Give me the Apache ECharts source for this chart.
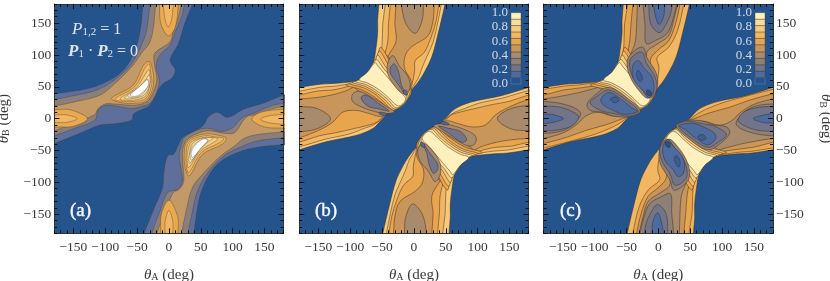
<!DOCTYPE html>
<html>
<head>
<meta charset="utf-8">
<style>html,body{margin:0;padding:0;background:#fff}#c{width:830px;height:281px}</style>
<script src="https://cdn.jsdelivr.net/npm/echarts@6/dist/echarts.min.js"></script>
</head>
<body>
<div id="c"></div>
<script>
// ---- tick labels and shared values ----
const majorTicks = [-150, -100, -50, 0, 50, 100, 150];
const colorbarEdges = [0, 0.09, 0.18, 0.27, 0.36, 0.45, 0.55, 0.64, 0.73, 0.82, 0.91, 1];
const colorbarTicks = ['0.0', '0.2', '0.4', '0.6', '0.8', '1.0'];
const bands = ['#25548C', '#4E6BA0', '#72748C', '#8E8077', '#A88A6C', '#C8955B', '#E9A44E', '#F2B763', '#F7CA7B', '#FBDD9A', '#FFF0BE'];
const aBands = { p1: '#5E6F9B', p2: '#8B7F7C', p3: '#C39A65', b1: '#E8A94F', b2: '#F2BB6C', b3: '#F7CF85', b4: '#FBE0A3', b5: '#FEF1CC', b6: '#FFFFFF' };

// ---- panel (a): contour outlines [thetaA, thetaB] of the upper-left arm ----
const aLevel1 = [[-41,190],[-41,180],[-45,139],[-53,108],[-69,79],[-92,61],[-124,48],[-180,39],[-195,37],[-195,-44],[-180,-39],[-140,-23],[-108,-10],[-85,-8],[-58,-2],[-56,7],[-43,14],[-30,21],[-17,45],[-9,55],[4,63],[10,76],[2,92],[15,118],[25,150],[37,180],[39,190]];
const aLevel2 = [[-30,190],[-30,180],[-35,139],[-43,116],[-58,87],[-85,61],[-113,45],[-145,37],[-180,30],[-195,28],[-195,-30],[-180,-27],[-145,-14],[-116,-2],[-111,14],[-98,21],[-85,20],[-58,16],[-43,19],[-30,24],[-19,42],[-15,61],[-20,82],[-14,100],[2,116],[10,137],[20,160],[24,180],[25,190]];
const aLevel3 = [[-21,190],[-21,180],[-25,139],[-31,118],[-43,103],[-58,82],[-85,55],[-108,37],[-145,27],[-180,20],[-195,19],[-195,-21],[-180,-19],[-145,-5],[-117,6],[-111,16],[-100,23],[-85,23],[-58,21],[-43,23],[-32,29],[-22,48],[-19,63],[-23,87],[-22,103],[2,121],[7,139],[15,160],[19,180],[20,190]];
const aTopLobe1 = [[-16,190],[-15,180],[-13,150],[-1,130],[10,144],[15,180],[16,190]];
const aTopLobe2 = [[-10,190],[-9,180],[-6,155],[-1,144],[4,155],[7,180],[8,190]];
const aLeftLobe1 = [[-195,15],[-180,14],[-155,14],[-128,0],[-150,-12],[-180,-13],[-195,-14]];
const aLeftLobe2 = [[-195,7],[-180,6],[-161,6],[-144,0],[-161,-6],[-180,-6],[-195,-7]];
const aBlob1 = [[-90,32],[-56,53],[-40,84],[-31,90],[-27,82],[-24,55],[-35,29],[-56,24],[-79,26]];
const aBlob2 = [[-85,31],[-53,51],[-38,79],[-31,86],[-29,74],[-27,55],[-36,32],[-56,27],[-77,28]];
const aBlob3 = [[-77,31],[-51,49],[-37,70],[-31,77],[-30,66],[-30,53],[-37,35],[-56,29],[-69,29]];
const aBlob4 = [[-70,33],[-48,49],[-36,62],[-31,69],[-30,55],[-39,37],[-56,32],[-64,31]];
const aBlob5 = [[-65,36],[-45,50],[-35,61],[-31,59],[-41,39],[-56,33]];
const aBlob6 = [[-61,37],[-43,53],[-34,61],[-32,53],[-43,40],[-53,35]];

// ---- panels (b), (c): shared outer edge and bright strip of the upper-left arm ----
const armEdge = [[-55,190],[-55,180],[-57,155],[-57,134],[-60,108],[-64,87],[-72,74],[-86,61],[-116,56],[-147,54],[-180,49],[-195,47],[-195,-54],[-180,-49],[-137,-36],[-90,-26],[-64,-15],[-52,-3],[-43,6],[-35,14],[-14,35],[-4,45],[7,58],[17,74],[28,97],[38,134],[49,181],[50,190]];
const strip10 = [[-61,88],[-73,73],[-86,61],[-73,56],[-54,45],[-40,33],[-24,20],[-13,31],[-25,45],[-39,62],[-50,75],[-57,83]];
const strip9 = [[-59,93],[-64,87],[-72,74],[-86,61],[-92,58],[-74,53],[-56,42],[-41,30],[-27,17],[-11,32],[-23,48],[-35,65],[-48,79],[-54,88]];
const strip8 = [[-57,100],[-62,88],[-70,74],[-86,60],[-97,57],[-75,50],[-57,39],[-44,28],[-29,15],[-9,33],[-20,50],[-32,67],[-45,82],[-52,94]];
const strip7 = [[-55,106],[-60,90],[-70,73],[-86,59],[-101,55],[-78,48],[-59,37],[-46,25],[-32,13],[-7,36],[-18,53],[-29,70],[-41,86],[-49,100]];
const strip6 = [[-53,112],[-58,92],[-70,72],[-88,58],[-107,53],[-81,45],[-62,34],[-48,23],[-34,11],[-5,38],[-15,56],[-26,73],[-38,90],[-46,105]];
const strip5 = [[-52,100],[-58,88],[-72,70],[-95,53],[-86,43],[-65,31],[-51,21],[-37,9],[-4,40],[-12,58],[-23,76],[-36,92],[-44,100]];

// ---- panel (b) interior contours ----
const bBelow7 = [[-45,190],[-45,180],[-49,149],[-50,117],[-55,88],[-75,62],[-117,52],[-149,49],[-180,43],[-195,42],[-195,-45],[-180,-44],[-138,-32],[-101,-24],[-80,-16],[-62,-9],[-46,4],[-23,23],[-7,43],[6,62],[14,83],[22,101],[30,120],[37,149],[43,180],[44,190]];
const bBelow6 = [[-37,190],[-37,180],[-40,149],[-41,122],[-46,101],[-54,83],[-88,57],[-122,46],[-154,43],[-180,37],[-195,36],[-195,-38],[-180,-37],[-149,-27],[-122,-22],[-96,-16],[-75,-11],[-59,-6],[-49,3],[-23,23],[-8,41],[-3,54],[1,75],[2,91],[16,104],[27,128],[35,154],[39,180],[40,190]];
const bBelow5 = [[-28,190],[-28,180],[-30,149],[-28,122],[-39,101],[-49,86],[-96,49],[-122,39],[-154,33],[-180,31],[-195,30],[-195,-31],[-180,-30],[-149,-18],[-128,-6],[-112,10],[-91,13],[-70,8],[-49,4],[-23,25],[-12,41],[-4,57],[-15,80],[-13,101],[-2,114],[22,130],[30,154],[32,180],[33,190]];
const bTopLobe = [[-21,190],[-20,180],[-13,150],[2,134],[13,155],[15,180],[16,190]];
const bLeftLobe = [[-195,20],[-180,19],[-152,16],[-131,0],[-150,-15],[-180,-21],[-195,-22]];
const bUpperRing = [[-33,99],[-41,88],[-41,70],[-28,49],[-15,39],[-6,49],[-10,67],[-23,83]];
const bUpperCore = [[-37,80],[-31,86],[-24,73],[-20,54],[-13,37],[-25,54],[-37,71]];
const bLowerRing = [[-96,39],[-86,43],[-65,33],[-44,20],[-31,11],[-44,8],[-65,12],[-86,20],[-97,28]];
const bLowerCore = [[-83,33],[-75,37],[-57,25],[-39,12],[-54,15],[-73,20]];
const bTipA = [[-16,45],[-11,43],[-11,37],[-16,39]];
const bTipB = [[-54,10],[-43,8],[-43,5],[-54,7]];

// ---- panel (c) interior contours ----
const cBelow6 = [[-48,190],[-48,180],[-53,149],[-54,117],[-58,91],[-75,64],[-117,54],[-149,51],[-180,46],[-195,45],[-195,-48],[-180,-46],[-133,-34],[-101,-25],[-78,-16],[-62,-8],[-46,4],[-23,23],[-7,43],[-3,54],[1,80],[-2,96],[16,112],[30,138],[40,180],[41,190]];
const cBelow5 = [[-40,190],[-40,180],[-43,149],[-45,122],[-49,101],[-55,86],[-80,58],[-117,49],[-149,45],[-180,37],[-195,35],[-195,-41],[-180,-39],[-143,-29],[-112,-18],[-80,-9],[-59,-1],[-46,4],[-23,23],[-10,41],[-4,54],[-10,73],[-12,94],[1,109],[16,122],[27,149],[34,180],[35,190]];
const cBelow4 = [[-33,190],[-33,180],[-34,149],[-36,122],[-41,107],[-52,88],[-86,54],[-117,43],[-149,36],[-180,31],[-195,30],[-195,-32],[-180,-31],[-149,-22],[-128,-9],[-114,4],[-96,10],[-70,4],[-49,6],[-28,18],[-12,36],[-7,54],[-15,80],[-18,104],[-2,117],[16,130],[24,154],[30,180],[31,190]];
const cTop3 = [[-24,190],[-24,180],[-21,149],[-19,118],[-4,123],[14,134],[23,156],[29,180],[30,190]];
const cLeft3 = [[-195,28],[-180,27],[-154,24],[-130,16],[-122,8],[-128,-3],[-143,-16],[-164,-22],[-180,-23],[-195,-24]];
const cUpper3 = [[-49,91],[-37,107],[-24,112],[-18,96],[-4,73],[-1,54],[-8,40],[-17,32],[-28,41],[-44,65]];
const cLower3 = [[-112,23],[-96,40],[-78,49],[-54,36],[-28,12],[-44,3],[-70,4],[-88,10],[-107,13]];
const cTop2 = [[-15,190],[-15,180],[-12,149],[1,135],[11,146],[19,164],[22,180],[23,190]];
const cLeft2 = [[-195,21],[-180,20],[-154,18],[-133,10],[-125,2],[-135,-11],[-159,-18],[-180,-19],[-195,-20]];
const cUpper2 = [[-45,90],[-35,102],[-25,104],[-19,88],[-6,67],[-2,49],[-7,37],[-15,33],[-25,45],[-41,67]];
const cLower2 = [[-107,25],[-94,37],[-78,45],[-54,32],[-31,11],[-45,4],[-70,8],[-91,13]];
const cTop1 = [[-8,190],[-8,180],[-4,159],[1,148],[8,159],[10,180],[10,190]];
const cLeft1 = [[-195,8],[-180,7],[-164,6],[-149,0],[-162,-5],[-180,-8],[-195,-9]];
const cUpper1 = [[-39,86],[-31,91],[-23,80],[-10,65],[-7,44],[-15,33],[-23,43],[-36,57],[-41,70]];
const cLower1 = [[-90,31],[-78,41],[-59,31],[-43,18],[-33,11],[-54,7],[-75,15],[-88,23]];
const cUpper0 = [[-34,73],[-31,76],[-25,64],[-28,58],[-33,64]];
const cLower0 = [[-75,31],[-67,34],[-62,28],[-70,25]];
const cTip0 = [[-18,45],[-12,43],[-11,37],[-17,37]];

// The lower-right arm of (a) mirrors the upper-left one across thetaA = thetaB; (b) and (c) repeat it through the origin.
const swapArm = pts => pts.map(p => [p[1], p[0]]);
const turnArm = pts => pts.map(p => [-p[0], -p[1]]);
const both = (list, other) => list.concat(list.map(l => [l[0], other(l[1])]));

const panelA = both([
  [aBands.p1, aLevel1], [aBands.p2, aLevel2], [aBands.p3, aLevel3],
  [aBands.b1, aTopLobe1], ['#F0B661', aTopLobe2], [aBands.b1, aLeftLobe1], ['#F0B661', aLeftLobe2],
  [aBands.b1, aBlob1], [aBands.b2, aBlob2], [aBands.b3, aBlob3], [aBands.b4, aBlob4], [aBands.b5, aBlob5], [aBands.b6, aBlob6]
], swapArm);
const stripLayers = [[bands[5], strip5], [bands[6], strip6], [bands[7], strip7], [bands[8], strip8], [bands[9], strip9], [bands[10], strip10]];
const panelB = both([
  [bands[8], armEdge], [bands[7], bBelow7], [bands[6], bBelow6], [bands[5], bBelow5],
  ...stripLayers,
  [bands[4], bTopLobe], [bands[4], bLeftLobe], [bands[4], bUpperRing], [bands[2], bUpperCore],
  [bands[4], bLowerRing], [bands[2], bLowerCore], [bands[1], bTipA], [bands[1], bTipB]
], turnArm);
const panelC = both([
  [bands[7], armEdge], [bands[6], cBelow6], [bands[5], cBelow5], [bands[4], cBelow4],
  ...stripLayers,
  [bands[3], cTop3], [bands[3], cLeft3], [bands[3], cUpper3], [bands[3], cLower3],
  [bands[2], cTop2], [bands[2], cLeft2], [bands[2], cUpper2], [bands[2], cLower2],
  [bands[1], cTop1], [bands[1], cLeft1], [bands[1], cUpper1], [bands[1], cLower1],
  ['#3A5E97', cUpper0], ['#3A5E97', cLower0], ['#27508A', cTip0]
], turnArm);

const font = '"Liberation Serif"';
const ink = '#3a3a3a';
const richMath = {
  t: { fontStyle: 'italic', fontFamily: font, fontSize: 15, color: ink },
  s: { fontFamily: font, fontSize: 10, color: ink, verticalAlign: 'bottom', padding: [5, 0, 0, 0] }
};
const axisName = letter => `{t|θ}{s|${letter}} (deg)`;

const plots = [
  { left: 54.3, layers: panelA, lineColor: 'rgba(70,60,50,0.55)', yLabels: 'left', tag: '(a)', tagLeft: 65 },
  { left: 299.3, layers: panelB, lineColor: 'rgba(60,45,30,0.7)', yLabels: null, tag: '(b)', tagLeft: 310, bar: 511 },
  { left: 543.7, layers: panelC, lineColor: 'rgba(60,45,30,0.7)', yLabels: 'right', tag: '(c)', tagLeft: 555, bar: 755 }
];
const side = 229.3, gridTop = 4;

const grid = [], xAxis = [], yAxis = [], series = [];
const titles = [];

plots.forEach(p => {
  const g = grid.length;
  grid.push({ left: p.left, top: gridTop, width: side, height: side, show: false, outerBoundsMode: 'none' });
  const xi = xAxis.length, yi = yAxis.length;
  // labelled / major axes, opposite major axes, then the same two sides with 10-degree ticks
  ['bottom', 'top'].forEach((pos, k) => {
    xAxis.push({
      gridIndex: g, type: 'value', position: pos, min: -180, max: 180, z: 6,
      name: k === 0 ? axisName('A') : '', nameLocation: 'middle', nameGap: 34,
      nameTextStyle: { fontFamily: font, fontSize: 15, color: ink, rich: richMath },
      axisLine: { show: true, onZero: false, lineStyle: { color: '#333', width: 1 } },
      splitLine: { show: false },
      axisTick: { show: true, inside: true, length: 5, customValues: majorTicks, lineStyle: { color: '#111' } },
      axisLabel: { show: k === 0, customValues: majorTicks, margin: 7, fontFamily: font, fontSize: 13.5, color: ink,
        formatter: v => String(v).replace('-', '\u2212') }
    });
    xAxis.push({
      gridIndex: g, type: 'value', position: pos, min: -180, max: 180, interval: 10, z: 6,
      axisLine: { show: false, onZero: false }, splitLine: { show: false },
      axisTick: { show: true, inside: true, length: 3, lineStyle: { color: '#111' } }, axisLabel: { show: false }
    });
  });
  ['left', 'right'].forEach(pos => {
    const labelled = p.yLabels === pos;
    yAxis.push({
      gridIndex: g, type: 'value', position: pos, min: -180, max: 180, z: 6,
      name: labelled ? axisName('B') : '', nameLocation: 'middle',
      nameGap: pos === 'left' ? 43 : 45, nameRotate: pos === 'left' ? 90 : -90,
      nameTextStyle: { fontFamily: font, fontSize: 15, color: ink, rich: richMath },
      axisLine: { show: true, onZero: false, lineStyle: { color: '#333', width: 1 } },
      splitLine: { show: false },
      axisTick: { show: true, inside: true, length: 5, customValues: majorTicks, lineStyle: { color: '#111' } },
      axisLabel: { show: labelled, customValues: majorTicks, margin: 3, fontFamily: font, fontSize: 13.5, color: ink,
        formatter: v => String(v).replace('-', '\u2212') }
    });
    yAxis.push({
      gridIndex: g, type: 'value', position: pos, min: -180, max: 180, interval: 10, z: 6,
      axisLine: { show: false, onZero: false }, splitLine: { show: false },
      axisTick: { show: true, inside: true, length: 3, lineStyle: { color: '#111' } }, axisLabel: { show: false }
    });
  });

  const layers = p.layers;
  series.push({
    type: 'custom', xAxisIndex: xi, yAxisIndex: yi, coordinateSystem: 'cartesian2d', clip: true, silent: true, z: 2,
    data: [[0, 0]],
    renderItem: (params, api) => ({
      type: 'group',
      children: [{
        type: 'rect',
        shape: (() => { const a = api.coord([-180, 180]), b = api.coord([180, -180]); return { x: a[0], y: a[1], width: b[0] - a[0], height: b[1] - a[1] }; })(),
        style: { fill: bands[0] }
      }].concat(layers.map(l => ({
        type: 'polygon',
        shape: { points: l[1].map(pt => api.coord(pt)), smooth: 0.35 },
        style: { fill: l[0], stroke: p.lineColor, lineWidth: 0.7 }
      })))
    })
  });

  titles.push({
    text: p.tag, left: p.tagLeft, top: 197, z: 8,
    textStyle: { fontFamily: font, fontSize: 19, fontWeight: 'normal', color: '#F4F6FA', textBorderColor: '#F4F6FA', textBorderWidth: 0.4 }
  });

  if (p.bar) {
    const gb = grid.length;
    grid.push({ left: p.bar, top: 12.7, width: 10, height: 71.3, show: false, outerBoundsMode: 'none' });
    const bx = xAxis.length, by = yAxis.length;
    xAxis.push({ gridIndex: gb, type: 'value', min: 0, max: 1, show: false });
    yAxis.push({
      gridIndex: gb, type: 'value', min: 0, max: 1, interval: 0.2, z: 7,
      axisLine: { show: false }, axisTick: { show: false }, splitLine: { show: false },
      axisLabel: { margin: 3, fontFamily: font, fontSize: 13, color: '#D3DAE6', padding: [3, 0, 0, 0],
        formatter: (v, i) => colorbarTicks[i] }
    });
    series.push({
      type: 'custom', xAxisIndex: bx, yAxisIndex: by, coordinateSystem: 'cartesian2d', silent: true, z: 4,
      data: colorbarEdges.slice(0, -1).map((lo, i) => [lo, colorbarEdges[i + 1], i]),
      renderItem: (params, api) => {
        const a = api.coord([0, api.value(1)]), b = api.coord([1, api.value(0)]);
        const i = api.value(2);
        return { type: 'rect', shape: { x: a[0], y: a[1], width: b[0] - a[0], height: b[1] - a[1] },
          style: { fill: bands[i], stroke: i === 0 ? '#5F7DA8' : 'rgba(70,55,40,0.6)', lineWidth: 0.6 } };
      },
      encode: { x: 0, y: 1 }
    });
  }
});

const mathRich = c => ({
  i: { fontStyle: 'italic', fontWeight: 'normal', fontFamily: font, fontSize: 17, color: c },
  b: { fontStyle: 'italic', fontWeight: 'bold', fontFamily: font, fontSize: 17, color: c },
  s: { fontWeight: 'normal', fontFamily: font, fontSize: 11, color: c, verticalAlign: 'bottom', padding: [6, 0, 0, 0] },
  n: { fontWeight: 'normal', fontFamily: font, fontSize: 16, color: c }
});
titles.push({ text: '{i|P}{s|1,2}{n| = 1}', left: 67, top: 16, z: 8, textStyle: { fontFamily: font, fontSize: 16, fontWeight: 'normal', color: '#DDE3EC', rich: mathRich('#DDE3EC') } });
titles.push({ text: '{b|P}{s|1}{n| · }{b|P}{s|2}{n| = 0}', left: 63, top: 38, z: 8, textStyle: { fontFamily: font, fontSize: 16, fontWeight: 'normal', color: '#DDE3EC', rich: mathRich('#DDE3EC') } });

const chart = echarts.init(document.getElementById('c'), null, { renderer: 'canvas', width: 830, height: 281 });
chart.setOption({ animation: false, backgroundColor: '#fff', title: titles, grid, xAxis, yAxis, series });
</script>
</body>
</html>
